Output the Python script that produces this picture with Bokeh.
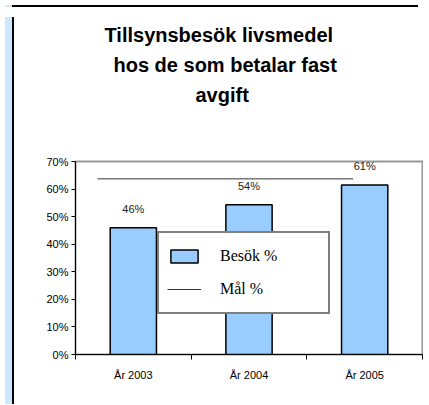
from bokeh.plotting import figure
from bokeh.models import (Range1d, FixedTicker, LinearAxis, NumeralTickFormatter,
                          ColumnDataSource, LabelSet, Legend, LegendItem, Div, Title)
from bokeh.layouts import column, row
from bokeh.embed import file_html
from bokeh.resources import INLINE
from bokeh.core.properties import value

# ---- data ----
categories = ["År 2003", "År 2004", "År 2005"]
besok = [0.46, 0.543, 0.615]
besok_labels = ["46%", "54%", "61%"]
mal_x = [0.19, 2.40]
mal = [0.637, 0.637]
y_ticks = [0.0, 0.1, 0.2, 0.3, 0.4, 0.5, 0.6, 0.7]
title_lines = ["Tillsynsbesök livsmedel", "hos de som betalar fast", "avgift"]
series_names = ["Besök %", "Mål %"]

FONT = "Liberation Sans"

x_pos = [i + 0.5 for i in range(len(categories))]
bounds = list(range(len(categories) + 1))
src = ColumnDataSource(dict(x=x_pos, top=besok, label=besok_labels))

p = figure(width=404, height=387, x_range=Range1d(0, len(categories)),
           y_range=Range1d(0, y_ticks[-1]), output_backend="svg",
           toolbar_location=None, min_border_left=56, min_border_right=1,
           min_border_top=149, min_border_bottom=45, title=None,
           border_fill_color="white", background_fill_color="white")

p.outline_line_color = "#999999"
p.outline_line_width = 2
p.xgrid.visible = False
p.ygrid.visible = False

# spacer between title block and plot area (closest to the frame)
p.add_layout(Title(text=" ", text_font_size="1px", text_color="white",
                   standoff=50), "above")
# title lines, added from the frame outward; left offsets centre each line
title_offsets = [29, 38, 120]
for line, off in reversed(list(zip(title_lines, title_offsets))):
    p.add_layout(Title(text=line, align="left", offset=off, standoff=6,
                       text_font=FONT, text_font_size="20px",
                       text_font_style="bold", text_color="black"), "above")

# y axis
ya = p.yaxis[0]
ya.ticker = FixedTicker(ticks=y_ticks)
ya.formatter = NumeralTickFormatter(format="0%")
ya.major_tick_out = 4
ya.major_tick_in = 0
ya.minor_tick_line_color = None
ya.axis_line_color = "black"
ya.major_tick_line_color = "black"
ya.major_label_text_font = FONT
ya.major_label_text_font_size = "11px"
ya.major_label_text_color = "black"
ya.major_label_standoff = 3

# x axis: ticks at category boundaries
xa = p.xaxis[0]
xa.ticker = FixedTicker(ticks=bounds)
xa.major_tick_out = 5
xa.major_tick_in = 0
xa.minor_tick_line_color = None
xa.axis_line_color = "black"
xa.major_tick_line_color = "black"
xa.major_label_text_font_size = "1px"
xa.major_label_text_alpha = 0
xa.major_label_standoff = 0

# second x axis: category labels at centers
xa2 = LinearAxis(ticker=FixedTicker(ticks=x_pos),
                 major_label_overrides={x: c for x, c in zip(x_pos, categories)})
xa2.axis_line_color = None
xa2.major_tick_line_color = None
xa2.minor_tick_line_color = None
xa2.major_label_text_font = FONT
xa2.major_label_text_font_size = "11px"
xa2.major_label_text_color = "black"
xa2.major_label_standoff = 3
p.add_layout(xa2, "below")

r_bar = p.vbar(x="x", top="top", width=0.4, source=src, fill_color="#99ccff",
               line_color="black", line_width=1.5)
r_line = p.line(mal_x, mal, line_color="#333333", line_width=1)

labels = LabelSet(x="x", y="top", text="label", source=src, y_offset=19,
                  text_align="center", text_baseline="middle",
                  text_font=value(FONT), text_font_size=value("11px"),
                  text_color="#222222")
p.add_layout(labels)

legend = Legend(items=[LegendItem(label=series_names[0], renderers=[r_bar]),
                       LegendItem(label=series_names[1], renderers=[r_line])],
                location=(82, 40), margin=0, padding=8, spacing=3,
                glyph_width=34, glyph_height=16, label_standoff=19,
                label_width=100, label_height=30,
                label_text_font="Liberation Serif", label_text_font_size="16px",
                label_text_color="black",
                border_line_color="black", border_line_width=2,
                background_fill_color="white", background_fill_alpha=1)
p.add_layout(legend)

top_line = Div(width=413, height=2,
               styles={"background": "linear-gradient(to right, #cce8ff 7px, #000000 7px)"})
left_strip = Div(width=9, height=387,
                 styles={"background": "linear-gradient(to right, #cce8ff 7px, #000000 7px)"})
layout = column(top_line, row(left_strip, p))

open("out.html", "w").write(file_html(layout, INLINE))
